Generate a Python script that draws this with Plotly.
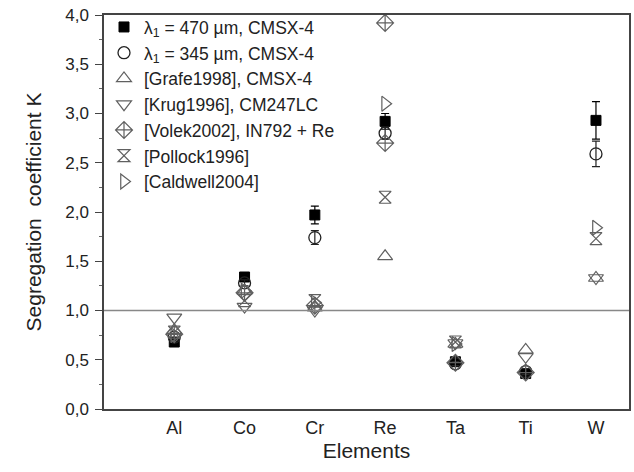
import plotly.graph_objects as go

elements = ["Al", "Co", "Cr", "Re", "Ta", "Ti", "W"]

k470 = [0.68, 1.34, 1.97, 2.92, 0.48, 0.36, 2.93]
err470 = [0.03, 0.03, 0.09, 0.08, 0.02, 0.03, 0.19]
k345 = [0.73, 1.28, 1.74, 2.80, 0.46, 0.38, 2.59]
err345 = [0.03, 0.03, 0.07, 0.06, 0.02, 0.03, 0.13]
grafe_x = ["Al", "Co", "Cr", "Re", "Ta", "Ti", "W"]
grafe = [0.80, 1.20, 1.03, 1.55, 0.66, 0.60, 1.33]
krug_x = ["Al", "Co", "Cr", "Ta", "Ti", "W"]
krug = [0.93, 1.04, 1.00, 0.67, 0.53, 1.33]
volek_x = ["Al", "Co", "Cr", "Re", "Re", "Ta", "Ti"]
volek = [0.76, 1.18, 1.05, 3.92, 2.70, 0.47, 0.37]
pollock_x = ["Al", "Co", "Cr", "Re", "Ta", "W"]
pollock = [0.78, 1.10, 1.10, 2.15, 0.68, 1.73]
caldwell_x = ["Al", "Co", "Cr", "Re", "Ta", "W"]
caldwell = [0.75, 1.20, 1.08, 3.10, 0.66, 1.84]

dark = "#222222"
gray = "#606060"

fig = go.Figure()
fig.add_trace(go.Scatter(
    x=elements, y=k470, mode="markers", name="λ<sub>1</sub> = 470 µm, CMSX-4",
    marker=dict(symbol="square", size=10, color="black", line=dict(color="black", width=1)),
    error_y=dict(type="data", array=err470, color="black", thickness=1.2, width=4)))
fig.add_trace(go.Scatter(
    x=elements, y=k345, mode="markers", name="λ<sub>1</sub> = 345 µm, CMSX-4",
    marker=dict(symbol="circle-open", size=12, color=dark, line=dict(width=1.3)),
    error_y=dict(type="data", array=err345, color=dark, thickness=1.2, width=4)))
fig.add_trace(go.Scatter(
    x=grafe_x, y=grafe, mode="markers", name="[Grafe1998], CMSX-4",
    marker=dict(symbol="triangle-up-open", size=13, color=gray, line=dict(width=1.2))))
fig.add_trace(go.Scatter(
    x=krug_x, y=krug, mode="markers", name="[Krug1996], CM247LC",
    marker=dict(symbol="triangle-down-open", size=13, color=gray, line=dict(width=1.2))))
fig.add_trace(go.Scatter(
    x=volek_x, y=volek, mode="markers", name="[Volek2002], IN792 + Re",
    marker=dict(symbol="diamond-cross-open", size=13, color=gray, line=dict(width=1.2))))
fig.add_trace(go.Scatter(
    x=pollock_x, y=pollock, mode="markers", name="[Pollock1996]",
    marker=dict(symbol="hourglass-open", size=12, color=gray, line=dict(width=1.2))))
fig.add_trace(go.Scatter(
    x=caldwell_x, y=caldwell, mode="markers", name="[Caldwell2004]",
    marker=dict(symbol="triangle-right-open", size=13, color=gray, line=dict(width=1.2))))

fig.add_hline(y=1.0, line=dict(color="#888888", width=1.5))

fig.update_layout(
    width=634, height=472,
    margin=dict(l=104, r=3, t=15, b=63),
    paper_bgcolor="white", plot_bgcolor="white",
    font=dict(family="Liberation Sans, Arial, sans-serif", color="#222222"),
    separators=",.",
    showlegend=True,
    legend=dict(x=0.0, y=1.015, xanchor="left", yanchor="top",
                font=dict(size=17.5, color="#222222"), bgcolor="rgba(0,0,0,0)",
                itemwidth=30, tracegroupgap=0),
)
fig.update_xaxes(
    type="category", categoryorder="array", categoryarray=elements,
    range=[-1, 6.47], showgrid=False, zeroline=False,
    showline=True, linecolor="#444444", linewidth=1.5, mirror=True,
    ticks="", tickfont=dict(size=18), ticklabelstandoff=2,
    title=dict(text="Elements", font=dict(size=21), standoff=6),
)
fig.update_yaxes(
    range=[0, 4.0], dtick=0.5, tickformat=".1f", showgrid=False, zeroline=False,
    showline=True, linecolor="#444444", linewidth=1.5, mirror=True,
    ticks="outside", ticklen=7, tickwidth=1, tickcolor="#444444",
    minor=dict(dtick=0.25, ticks="outside", ticklen=3, tickcolor="#666666"),
    tickfont=dict(size=17), ticklabelstandoff=3,
    title=dict(text="Segregation  coefficient K", font=dict(size=21), standoff=18),
)

fig.write_html("out.html")
